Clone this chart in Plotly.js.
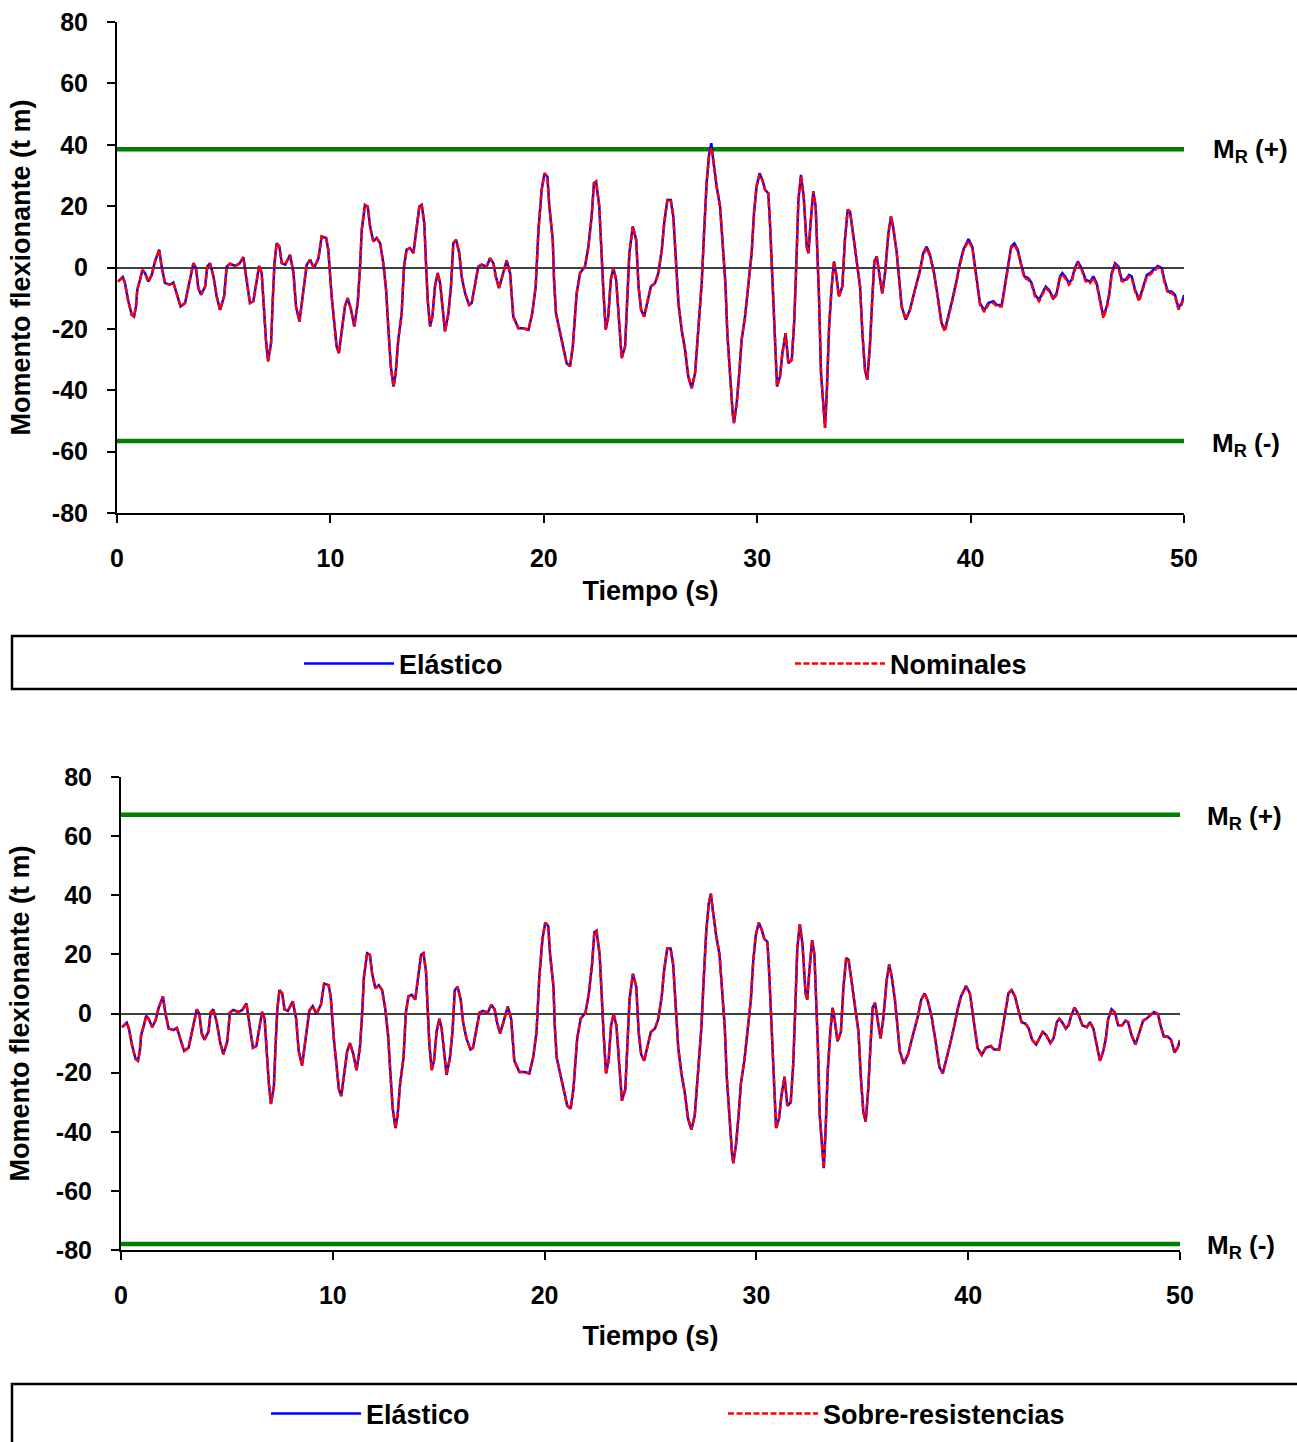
<!DOCTYPE html>
<html>
<head>
<meta charset="utf-8">
<script src="https://cdn.plot.ly/plotly-3.0.1.min.js"></script>
<style>html,body{margin:0;padding:0;background:#fff;overflow:hidden;}#chart{width:1297px;height:1442px;}</style>
</head>
<body>
<div id="chart"></div>
<script>
const tiempo = [0.05,0.27,0.37,0.53,0.69,0.80,0.89,0.95,1.08,1.19,1.31,1.47,1.63,1.78,1.98,2.09,2.25,2.48,2.64,2.80,2.98,3.19,3.38,3.58,3.70,3.81,3.94,4.13,4.23,4.36,4.52,4.67,4.83,5.02,5.14,5.30,5.53,5.73,5.92,6.00,6.08,6.23,6.39,6.50,6.66,6.78,6.86,6.98,7.08,7.22,7.30,7.38,7.48,7.61,7.72,7.88,8.11,8.27,8.39,8.55,8.70,8.89,9.05,9.23,9.44,9.59,9.80,9.90,10.06,10.18,10.29,10.40,10.53,10.68,10.81,10.97,11.12,11.28,11.39,11.47,11.62,11.75,11.86,12.01,12.17,12.33,12.48,12.61,12.72,12.83,12.96,13.06,13.18,13.34,13.45,13.57,13.73,13.89,14.01,14.17,14.28,14.40,14.48,14.56,14.67,14.78,14.90,15.03,15.14,15.25,15.37,15.53,15.65,15.76,15.89,16.04,16.15,16.31,16.50,16.62,16.75,16.93,17.09,17.32,17.48,17.64,17.75,17.90,18.10,18.26,18.42,18.57,18.81,19.04,19.28,19.46,19.62,19.75,19.90,20.03,20.17,20.26,20.42,20.48,20.57,20.76,20.95,21.07,21.23,21.36,21.46,21.54,21.70,21.93,22.09,22.24,22.35,22.45,22.60,22.68,22.79,22.90,23.02,23.14,23.26,23.39,23.53,23.65,23.81,23.92,24.01,24.17,24.33,24.44,24.56,24.70,24.86,25.02,25.21,25.37,25.53,25.64,25.79,25.95,26.07,26.20,26.31,26.46,26.62,26.77,26.93,27.09,27.24,27.40,27.51,27.63,27.75,27.85,27.94,28.10,28.26,28.41,28.51,28.60,28.73,28.85,28.91,29.04,29.16,29.27,29.43,29.59,29.74,29.85,29.97,30.11,30.24,30.37,30.52,30.60,30.68,30.76,30.83,30.93,31.07,31.18,31.33,31.46,31.62,31.74,31.85,31.93,32.05,32.18,32.32,32.40,32.50,32.63,32.74,32.83,32.90,32.99,33.10,33.18,33.26,33.37,33.49,33.60,33.69,33.83,33.99,34.11,34.24,34.35,34.51,34.66,34.82,34.93,35.05,35.16,35.28,35.39,35.49,35.60,35.75,35.86,35.99,36.15,36.27,36.38,36.54,36.65,36.77,36.96,37.16,37.39,37.63,37.78,37.94,38.10,38.29,38.46,38.64,38.80,38.96,39.14,39.35,39.50,39.66,39.90,40.08,40.21,40.33,40.44,40.64,40.83,41.07,41.22,41.46,41.61,41.77,41.90,42.05,42.21,42.36,42.52,42.71,42.86,43.02,43.21,43.36,43.52,43.68,43.88,44.03,44.19,44.30,44.43,44.61,44.74,44.86,45.02,45.20,45.39,45.60,45.75,45.91,46.07,46.22,46.38,46.50,46.61,46.77,46.93,47.08,47.27,47.43,47.55,47.71,47.90,48.05,48.26,48.41,48.57,48.77,48.96,49.08,49.24,49.42,49.58,49.74,49.89,50.00];

const elastico = [-4.6,-3.1,-5.0,-11.0,-15.4,-16.0,-12.7,-7.3,-4.0,-0.8,-1.8,-4.6,-2.4,2.0,5.8,0.3,-5.1,-5.6,-4.9,-8.4,-12.7,-11.6,-5.1,1.4,-0.2,-6.7,-8.9,-6.2,0.3,1.4,-2.9,-9.4,-13.8,-9.4,0.3,1.2,0.5,1.2,3.4,-0.2,-5.1,-11.6,-11.0,-6.2,0.5,-1.8,-10.5,-23.6,-30.6,-24.6,-10.5,1.4,7.9,6.8,1.4,0.9,4.1,-1.8,-12.7,-17.6,-9.4,0.9,2.5,-0.2,3.0,10.1,9.6,5.8,-9.4,-19.2,-25.7,-27.9,-21.4,-12.7,-10.0,-13.8,-19.2,-11.6,0.3,12.3,20.4,19.9,13.4,8.5,9.6,7.9,1.4,-7.3,-20.3,-32.2,-38.8,-34.4,-23.6,-14.9,0.3,5.8,6.3,4.7,11.2,19.9,20.4,14.4,1.4,-10.5,-19.2,-16.0,-6.2,-1.8,-5.1,-12.7,-20.8,-14.9,-6.2,7.9,9.0,4.7,-2.9,-8.4,-12.2,-11.6,-6.2,0.3,0.9,0.3,3.0,1.4,-2.9,-6.7,-1.8,2.3,-1.8,-16.0,-19.8,-19.8,-20.3,-14.9,-6.2,12.3,25.3,30.7,29.6,19.9,9.0,-4.0,-14.9,-21.4,-26.8,-31.2,-32.2,-25.7,-16.0,-8.4,-1.8,0.3,6.8,16.6,27.5,28.0,19.9,6.8,-7.3,-20.3,-16.0,-4.0,-0.2,-4.0,-19.2,-29.5,-25.7,-10.5,4.7,13.4,9.0,-6.2,-13.8,-16.0,-10.5,-6.2,-5.1,-1.8,5.8,14.4,22.0,22.0,16.6,0.3,-11.6,-20.3,-26.8,-35.5,-39.3,-34.4,-21.4,-5.1,11.2,27.5,37.2,40.5,35.1,26.4,19.9,5.8,-5.1,-21.4,-36.6,-47.4,-50.7,-44.2,-34.4,-23.6,-16.0,-4.0,4.7,17.7,26.4,30.7,28.6,25.3,24.2,14.4,0.3,-12.7,-25.7,-38.8,-35.5,-27.9,-21.4,-31.2,-30.1,-17.0,4.7,22.0,30.2,23.1,6.8,4.7,14.4,24.8,19.9,3.6,-10.5,-34.4,-44.2,-52.3,-40.9,-19.2,-6.2,2.0,-1.8,-9.4,-6.2,9.0,18.8,18.2,10.1,2.5,-6.2,-21.4,-33.3,-36.6,-25.7,-10.5,2.0,3.6,-2.9,-8.4,-1.8,11.2,16.6,12.8,4.7,-5.1,-12.7,-17.0,-13.8,-7.3,-0.8,4.7,6.8,4.1,-1.8,-9.4,-18.1,-20.3,-16.0,-10.5,-4.0,1.4,5.8,9.3,6.8,0.3,-6.2,-11.6,-14.0,-11.6,-11.0,-12.2,-12.2,-6.2,0.3,6.8,7.9,5.8,1.4,-2.9,-3.5,-5.1,-8.9,-10.5,-8.4,-6.2,-7.3,-10.0,-8.4,-2.9,-1.8,-2.9,-5.1,-4.0,-0.8,2.0,-0.2,-4.0,-4.6,-2.9,-5.1,-10.5,-16.0,-12.7,-8.4,-1.8,1.4,0.3,-4.0,-4.0,-2.4,-2.9,-7.3,-10.5,-7.3,-2.4,-1.8,-0.8,0.5,-0.2,-4.0,-7.8,-7.8,-8.9,-13.2,-11.6,-9.0];

const nominales = [-4.6,-3.1,-5.0,-11.0,-15.4,-16.0,-12.7,-7.3,-4.0,-0.8,-1.8,-4.6,-2.4,2.0,5.8,0.3,-5.1,-5.6,-4.9,-8.4,-12.7,-11.6,-5.1,1.4,-0.2,-6.7,-8.9,-6.2,0.3,1.4,-2.9,-9.4,-13.8,-9.4,0.3,1.2,0.5,1.2,3.4,-0.2,-5.1,-11.6,-11.0,-6.2,0.5,-1.8,-10.5,-23.6,-30.6,-24.6,-10.5,1.4,7.9,6.8,1.4,0.9,4.1,-1.8,-12.7,-17.6,-9.4,0.9,2.5,-0.2,3.0,10.1,9.6,5.8,-9.4,-19.2,-25.7,-27.9,-21.4,-12.7,-10.0,-13.8,-19.2,-11.6,0.3,12.3,20.4,19.9,13.4,8.5,9.6,7.9,1.4,-7.3,-20.3,-32.2,-38.8,-34.4,-23.6,-14.9,0.3,5.8,6.3,4.7,11.2,19.9,20.4,14.4,1.4,-10.5,-19.2,-16.0,-6.2,-1.8,-5.1,-12.7,-20.8,-14.9,-6.2,7.9,9.0,4.7,-2.9,-8.4,-12.2,-11.6,-6.2,0.3,0.9,0.3,3.0,1.4,-2.9,-6.7,-1.8,2.3,-1.8,-16.0,-19.8,-19.8,-20.3,-14.9,-6.2,12.3,25.3,30.7,29.6,19.9,9.0,-4.0,-14.9,-21.4,-26.8,-31.2,-32.2,-25.7,-16.0,-8.4,-1.8,0.3,6.8,16.6,27.5,28.0,19.9,6.8,-7.3,-20.3,-16.0,-4.0,-0.2,-4.0,-19.2,-29.5,-25.7,-10.5,4.7,13.4,9.0,-6.2,-13.8,-16.0,-10.5,-6.2,-5.1,-1.8,5.8,14.4,22.0,22.0,16.6,0.3,-11.6,-20.3,-26.8,-35.5,-39.3,-34.4,-21.4,-5.1,11.2,27.5,36.8,39.0,35.1,26.4,19.9,5.8,-5.1,-21.4,-36.6,-47.4,-50.7,-44.2,-34.4,-23.6,-16.0,-4.0,4.7,17.7,26.4,30.2,28.6,25.3,24.2,14.4,0.3,-12.7,-25.7,-38.8,-35.5,-27.9,-21.4,-31.2,-30.1,-17.0,4.7,22.0,29.7,23.1,6.8,4.7,14.4,24.8,19.9,3.6,-10.5,-34.4,-44.2,-52.3,-40.9,-19.2,-6.2,2.0,-1.8,-9.4,-6.2,9.0,18.8,18.2,10.1,2.5,-6.2,-21.4,-33.3,-36.6,-25.7,-10.5,2.0,3.6,-2.9,-8.4,-1.8,11.2,16.6,12.8,4.7,-5.1,-12.7,-17.0,-13.8,-7.3,-1.3,4.2,6.3,3.6,-2.3,-9.9,-18.6,-20.8,-16.5,-11.0,-4.5,0.9,5.3,8.8,6.3,-0.2,-6.7,-12.1,-14.5,-12.1,-11.5,-12.7,-12.7,-6.7,-0.2,6.3,7.4,5.3,0.9,-3.4,-4.0,-5.6,-9.4,-11.0,-8.9,-6.7,-7.8,-10.5,-8.9,-3.4,-2.3,-3.4,-5.6,-4.5,-1.3,1.5,-0.7,-4.5,-5.1,-3.4,-5.6,-11.0,-16.5,-13.2,-8.9,-2.3,0.9,-0.2,-4.5,-4.5,-2.9,-3.4,-7.8,-11.0,-7.8,-2.9,-2.3,-1.3,0.0,-0.7,-4.5,-8.3,-8.3,-9.4,-13.7,-12.1,-9.5];

const sobreResistencias = [-4.6,-3.1,-5.0,-11.0,-15.4,-16.0,-12.7,-7.3,-4.0,-0.8,-1.8,-4.6,-2.4,2.0,5.8,0.3,-5.1,-5.6,-4.9,-8.4,-12.7,-11.6,-5.1,1.4,-0.2,-6.7,-8.9,-6.2,0.3,1.4,-2.9,-9.4,-13.8,-9.4,0.3,1.2,0.5,1.2,3.4,-0.2,-5.1,-11.6,-11.0,-6.2,0.5,-1.8,-10.5,-23.6,-30.6,-24.6,-10.5,1.4,7.9,6.8,1.4,0.9,4.1,-1.8,-12.7,-17.6,-9.4,0.9,2.5,-0.2,3.0,10.1,9.6,5.8,-9.4,-19.2,-25.7,-27.9,-21.4,-12.7,-10.0,-13.8,-19.2,-11.6,0.3,12.3,20.4,19.9,13.4,8.5,9.6,7.9,1.4,-7.3,-20.3,-32.2,-38.8,-34.4,-23.6,-14.9,0.3,5.8,6.3,4.7,11.2,19.9,20.4,14.4,1.4,-10.5,-19.2,-16.0,-6.2,-1.8,-5.1,-12.7,-20.8,-14.9,-6.2,7.9,9.0,4.7,-2.9,-8.4,-12.2,-11.6,-6.2,0.3,0.9,0.3,3.0,1.4,-2.9,-6.7,-1.8,2.3,-1.8,-16.0,-19.8,-19.8,-20.3,-14.9,-6.2,12.3,25.3,30.7,29.6,19.9,9.0,-4.0,-14.9,-21.4,-26.8,-31.2,-32.2,-25.7,-16.0,-8.4,-1.8,0.3,6.8,16.6,27.5,28.0,19.9,6.8,-7.3,-20.3,-16.0,-4.0,-0.2,-4.0,-19.2,-29.5,-25.7,-10.5,4.7,13.4,9.0,-6.2,-13.8,-16.0,-10.5,-6.2,-5.1,-1.8,5.8,14.4,22.0,22.0,16.6,0.3,-11.6,-20.3,-26.8,-35.5,-39.3,-34.4,-21.4,-5.1,11.2,27.5,37.2,40.5,35.1,26.4,19.9,5.8,-5.1,-21.4,-36.6,-47.4,-50.7,-44.2,-34.4,-23.6,-16.0,-4.0,4.7,17.7,26.4,30.7,28.6,25.3,24.2,14.4,0.3,-12.7,-25.7,-38.8,-35.5,-27.9,-21.4,-31.2,-30.1,-17.0,4.7,22.0,30.2,23.1,6.8,4.7,14.4,24.8,19.9,3.6,-10.5,-34.4,-44.2,-52.3,-40.9,-19.2,-6.2,2.0,-1.8,-9.4,-6.2,9.0,18.8,18.2,10.1,2.5,-6.2,-21.4,-33.3,-36.6,-25.7,-10.5,2.0,3.6,-2.9,-8.4,-1.8,11.2,16.6,12.8,4.7,-5.1,-12.7,-17.0,-13.8,-7.3,-0.8,4.7,6.8,4.1,-1.8,-9.4,-18.1,-20.3,-16.0,-10.5,-4.0,1.4,5.8,9.3,6.8,0.3,-6.2,-11.6,-14.0,-11.6,-11.0,-12.2,-12.2,-6.2,0.3,6.8,7.9,5.8,1.4,-2.9,-3.5,-5.1,-8.9,-10.5,-8.4,-6.2,-7.3,-10.0,-8.4,-2.9,-1.8,-2.9,-5.1,-4.0,-0.8,2.0,-0.2,-4.0,-4.6,-2.9,-5.1,-10.5,-16.0,-12.7,-8.4,-1.8,1.4,0.3,-4.0,-4.0,-2.4,-2.9,-7.3,-10.5,-7.3,-2.4,-1.8,-0.8,0.5,-0.2,-4.0,-7.8,-7.8,-8.9,-13.2,-11.6,-9.0];

const limiteTiempo = [0, 50];
const mrNominalPos = [38.5, 38.5];
const mrNominalNeg = [-56.5, -56.5];
const mrSobrePos = [67.2, 67.2];
const mrSobreNeg = [-78, -78];

const xTicks = [0, 10, 20, 30, 40, 50];
const yTicks = [-80, -60, -40, -20, 0, 20, 40, 60, 80];

const W = 1297, H = 1442;
const FONT = 'Liberation Sans, Arial, sans-serif';
const px = v => v / W;
const py = v => 1 - v / H;

const greenLine = {color: '#008000', width: 4.5};
const blueLine = {color: '#0000FF', width: 2.5};
const redLine = {color: '#FF0000', width: 2.5, dash: '6px,2.5px'};

const traces = [
  {x: limiteTiempo, y: mrNominalPos, xaxis: 'x', yaxis: 'y', mode: 'lines', line: greenLine, showlegend: false, hoverinfo: 'skip'},
  {x: limiteTiempo, y: mrNominalNeg, xaxis: 'x', yaxis: 'y', mode: 'lines', line: greenLine, showlegend: false, hoverinfo: 'skip'},
  {x: tiempo, y: elastico, xaxis: 'x', yaxis: 'y', mode: 'lines', name: 'Elástico', line: blueLine, legend: 'legend'},
  {x: tiempo, y: nominales, xaxis: 'x', yaxis: 'y', mode: 'lines', name: 'Nominales', line: redLine, legend: 'legend'},
  {x: limiteTiempo, y: mrSobrePos, xaxis: 'x2', yaxis: 'y2', mode: 'lines', line: greenLine, showlegend: false, hoverinfo: 'skip'},
  {x: limiteTiempo, y: mrSobreNeg, xaxis: 'x2', yaxis: 'y2', mode: 'lines', line: greenLine, showlegend: false, hoverinfo: 'skip'},
  {x: tiempo, y: elastico, xaxis: 'x2', yaxis: 'y2', mode: 'lines', name: 'Elástico', line: blueLine, legend: 'legend2'},
  {x: tiempo, y: sobreResistencias, xaxis: 'x2', yaxis: 'y2', mode: 'lines', name: 'Sobre-resistencias', line: redLine, legend: 'legend2'}
];

const tickFont = {family: FONT, size: 25, color: '#000', weight: 'bold'};
const titleFont = {family: FONT, size: 27, color: '#000', weight: 'bold'};

function xAx(domain, anchor, titleStandoff) {
  return {
    domain: domain, anchor: anchor, range: [0, 50], tickvals: xTicks, ticktext: xTicks.map(String),
    showline: true, linecolor: '#000', linewidth: 2, ticks: 'outside', ticklen: 8, tickwidth: 2, tickcolor: '#000',
    showgrid: false, zeroline: false, tickfont: tickFont, ticklabelstandoff: 14, automargin: false,
    title: {text: 'Tiempo (s)', font: titleFont, standoff: titleStandoff}, fixedrange: true
  };
}
function yAx(domain, anchor, titleStandoff) {
  return {
    domain: domain, anchor: anchor, range: [-80, 80], tickvals: yTicks, ticktext: yTicks.map(String),
    showline: true, linecolor: '#000', linewidth: 2, ticks: 'outside', ticklen: 8, tickwidth: 2, tickcolor: '#000',
    showgrid: false, zeroline: true, zerolinecolor: '#404040', zerolinewidth: 2,
    tickfont: tickFont, ticklabelstandoff: 14, automargin: false,
    title: {text: 'Momento flexionante (t m)', font: titleFont, standoff: titleStandoff}, fixedrange: true
  };
}
function xIn(over, anchor, domain) {
  return {overlaying: over, anchor: anchor, domain: domain, range: [0, 50], tickvals: xTicks, ticks: 'inside', ticklen: 8, tickwidth: 2, tickcolor: '#000',
    showticklabels: false, showline: false, showgrid: false, zeroline: false, fixedrange: true};
}
function yIn(over, anchor, domain) {
  return {overlaying: over, anchor: anchor, domain: domain, range: [-80, 80], tickvals: yTicks, ticks: 'inside', ticklen: 8, tickwidth: 2, tickcolor: '#000',
    showticklabels: false, showline: false, showgrid: false, zeroline: false, fixedrange: true};
}

const xd1 = [px(117), px(1184)], yd1 = [py(513), py(22)];
const xd2 = [px(121), px(1180)], yd2 = [py(1250), py(777)];

const legendFont = {family: FONT, size: 27, color: '#000', weight: 'bold'};
const annFont = {family: FONT, size: 26, color: '#000', weight: 'bold'};
const layout = {
  width: W, height: H,
  margin: {l: 0, r: 0, t: 0, b: 0, pad: 0, autoexpand: false},
  paper_bgcolor: '#fff', plot_bgcolor: 'rgba(0,0,0,0)',
  font: {family: FONT, color: '#000'},
  xaxis: xAx(xd1, 'y', 10), yaxis: yAx(yd1, 'x', 13),
  xaxis2: xAx(xd2, 'y2', 18), yaxis2: yAx(yd2, 'x2', 18),
  xaxis3: xIn('x', 'y', xd1), yaxis3: yIn('y', 'x', yd1),
  xaxis4: xIn('x2', 'y2', xd2), yaxis4: yIn('y2', 'x2', yd2),
  legend: {orientation: 'h', x: px(299), xanchor: 'left', y: py(664), yanchor: 'middle', itemwidth: 90,
    font: legendFont, entrywidth: 386, bgcolor: 'rgba(0,0,0,0)', borderwidth: 0, traceorder: 'normal'},
  legend2: {orientation: 'h', x: px(266), xanchor: 'left', y: py(1414), yanchor: 'middle', itemwidth: 90,
    font: legendFont, entrywidth: 352, bgcolor: 'rgba(0,0,0,0)', borderwidth: 0, traceorder: 'normal'},
  shapes: [
    {type: 'rect', xref: 'paper', yref: 'paper', x0: px(12), x1: 1.05, y0: py(689), y1: py(636), line: {color: '#000', width: 2.5}},
    {type: 'rect', xref: 'paper', yref: 'paper', x0: px(12), x1: 1.05, y0: -0.05, y1: py(1384), line: {color: '#000', width: 2.5}}
  ],
  annotations: [
    {xref: 'paper', yref: 'paper', x: px(1211), y: py(151), xanchor: 'left', yanchor: 'middle', showarrow: false, text: 'M<sub>R</sub> (+)', font: annFont},
    {xref: 'paper', yref: 'paper', x: px(1210), y: py(445), xanchor: 'left', yanchor: 'middle', showarrow: false, text: 'M<sub>R</sub> (-)', font: annFont},
    {xref: 'paper', yref: 'paper', x: px(1205), y: py(817), xanchor: 'left', yanchor: 'middle', showarrow: false, text: 'M<sub>R</sub> (+)', font: annFont},
    {xref: 'paper', yref: 'paper', x: px(1205), y: py(1246), xanchor: 'left', yanchor: 'middle', showarrow: false, text: 'M<sub>R</sub> (-)', font: annFont}
  ]
};

Plotly.newPlot('chart', traces, layout, {displayModeBar: false, staticPlot: true});
</script>
</body>
</html>
